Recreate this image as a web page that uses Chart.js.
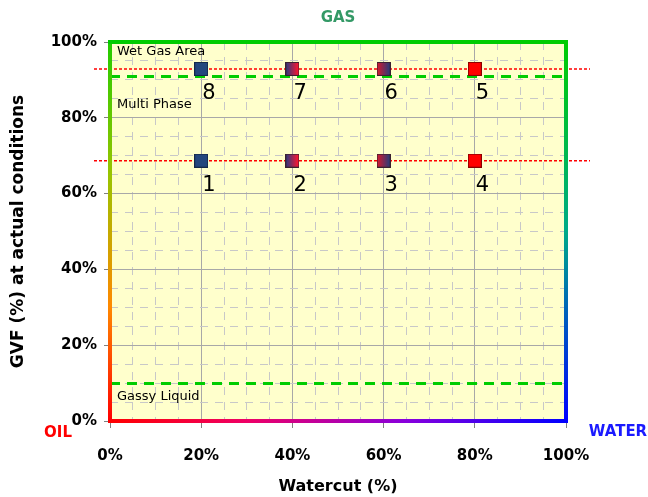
<!DOCTYPE html>
<html>
<head>
<meta charset="utf-8">
<script src="https://cdn.jsdelivr.net/npm/chart.js@4.4.1/dist/chart.umd.min.js"></script>
<style>
  html, body { margin: 0; padding: 0; background: #fff; }
  #wrap { width: 648px; height: 497px; }
</style>
</head>
<body>
<div id="wrap"><canvas id="chart" width="648" height="497"></canvas></div>
<script>
// data
const watercut = [20, 40, 60, 80, 80, 60, 40, 20];
const gvf = [68.7, 68.7, 68.7, 68.7, 92.9, 92.9, 92.9, 92.9];
const pointNames = ["1", "2", "3", "4", "5", "6", "7", "8"];
const refLines = [92.9, 68.7];      // red dotted
const zoneLimits = [91, 10];        // green dashed
const zoneNames = ["Wet Gas Area", "Multi Phase", "Gassy Liquid"];
const axisTicks = [0, 20, 40, 60, 80, 100];

const FONT = "'DejaVu Sans', sans-serif";

// little square markers (some are blue -> red blends)
function square(c1, c2, edge) {
  const cv = document.createElement("canvas");
  cv.width = 14; cv.height = 14;
  const c = cv.getContext("2d");
  const g = c.createLinearGradient(1, 0, 13, 0);
  g.addColorStop(0, c1);
  g.addColorStop(1, c2);
  c.fillStyle = g;
  c.fillRect(1, 1, 12, 12);
  c.strokeStyle = edge;
  c.lineWidth = 1;
  c.strokeRect(0.5, 0.5, 13, 13);
  return cv;
}
const blue = square("#23467e", "#23467e", "#14284a");
const blueRed = square("#34387e", "#ff1530", "#3a2030");
const redBlue = square("#d01a30", "#2c3a78", "#3a2030");
const red = square("#ff0000", "#ff0000", "#8a0000");
const markers = [blue, blueRed, redBlue, red, red, redBlue, blueRed, blue];

// background, zone lines, frame and labels
const decor = {
  id: "decor",
  beforeDraw(chart) {
    const { ctx, chartArea: a } = chart;
    ctx.save();
    ctx.fillStyle = "#ffffcc";
    ctx.fillRect(a.left, a.top, a.right - a.left, a.bottom - a.top);
    ctx.restore();
  },
  beforeDatasetsDraw(chart) {
    const { ctx, chartArea: a, scales: { y } } = chart;
    ctx.save();
    ctx.strokeStyle = "#00cc00";
    ctx.lineWidth = 3;
    ctx.setLineDash([10, 7]);
    zoneLimits.forEach(v => {
      const py = Math.round(y.getPixelForValue(v)) + 0.5;
      ctx.beginPath();
      ctx.moveTo(a.left, py);
      ctx.lineTo(a.right, py);
      ctx.stroke();
    });
    ctx.strokeStyle = "#ff0000";
    ctx.lineWidth = 1.5;
    ctx.setLineDash([3, 2]);
    refLines.forEach(v => {
      const py = y.getPixelForValue(v);
      ctx.beginPath();
      ctx.moveTo(a.left - 16, py);
      ctx.lineTo(a.right + 24, py);
      ctx.stroke();
    });
    ctx.restore();
  },
  afterDatasetsDraw(chart) {
    const { ctx, chartArea: a, scales: { y } } = chart;
    ctx.save();

    // frame with colour blends
    ctx.lineWidth = 4;
    ctx.setLineDash([]);
    let g;
    g = ctx.createLinearGradient(0, a.top, 0, a.bottom);
    g.addColorStop(0, "#22cc00");
    g.addColorStop(0.35, "#99c400");
    g.addColorStop(0.7, "#ff8800");
    g.addColorStop(1, "#ff0000");
    ctx.strokeStyle = g;
    ctx.beginPath(); ctx.moveTo(a.left, a.top - 2); ctx.lineTo(a.left, a.bottom + 2); ctx.stroke();

    g = ctx.createLinearGradient(a.left, 0, a.right, 0);
    g.addColorStop(0, "#ff0000");
    g.addColorStop(0.3, "#ee0066");
    g.addColorStop(0.65, "#8800dd");
    g.addColorStop(1, "#0000ff");
    ctx.strokeStyle = g;
    ctx.beginPath(); ctx.moveTo(a.left - 2, a.bottom); ctx.lineTo(a.right + 2, a.bottom); ctx.stroke();

    g = ctx.createLinearGradient(0, a.top, 0, a.bottom);
    g.addColorStop(0, "#00cc00");
    g.addColorStop(0.5, "#00aa88");
    g.addColorStop(1, "#0000ff");
    ctx.strokeStyle = g;
    ctx.beginPath(); ctx.moveTo(a.right, a.top - 2); ctx.lineTo(a.right, a.bottom + 2); ctx.stroke();

    ctx.strokeStyle = "#00cc00";
    ctx.beginPath(); ctx.moveTo(a.left - 2, a.top); ctx.lineTo(a.right + 2, a.top); ctx.stroke();

    // zone names
    ctx.fillStyle = "#000";
    ctx.font = "13px " + FONT;
    ctx.textAlign = "left";
    ctx.textBaseline = "middle";
    ctx.fillText(zoneNames[0], a.left + 7, y.getPixelForValue(97.4));
    ctx.fillText(zoneNames[1], a.left + 7, y.getPixelForValue(83.6));
    ctx.fillText(zoneNames[2], a.left + 7, y.getPixelForValue(6.3));

    // point numbers
    ctx.font = "21px " + FONT;
    ctx.textBaseline = "alphabetic";
    const meta = chart.getDatasetMeta(0);
    meta.data.forEach((pt, i) => {
      ctx.fillText(pointNames[i], pt.x + 1, pt.y + 30);
    });

    // corner words
    ctx.font = "bold 15px " + FONT;
    ctx.textAlign = "center";
    ctx.textBaseline = "middle";
    ctx.fillStyle = "#339966";
    ctx.fillText("GAS", (a.left + a.right) / 2, 18);
    ctx.fillStyle = "#ff0000";
    ctx.fillText("OIL", 58, a.bottom + 12);
    ctx.fillStyle = "#1a1aff";
    ctx.fillText("WATER", 618, a.bottom + 11);
    ctx.restore();
  }
};

const isMajor = v => axisTicks.includes(v);

function axis(titleText, titleSize, titlePad, labelPad, tickLen, extra) {
  return Object.assign({
    type: "linear",
    min: 0,
    max: 100,
    ticks: {
      stepSize: 5,
      autoSkip: false,
      maxRotation: 0,
      minRotation: 0,
      padding: labelPad,
      color: "#000",
      font: { family: FONT, size: 15, weight: "bold" },
      callback: v => isMajor(v) ? v + "%" : ""
    },
    grid: {
      color: c => isMajor(c.tick.value) ? "#a8a8a8" : "#c8c8c8",
      lineWidth: 1,
      tickColor: c => isMajor(c.tick.value) ? "#808080" : "rgba(0,0,0,0)",
      tickLength: tickLen
    },
    border: {
      display: false,
      dash: c => (c.tick && !isMajor(c.tick.value)) ? [8, 7] : []
    },
    title: {
      display: true,
      text: titleText,
      color: "#000",
      font: { family: FONT, size: titleSize, weight: "bold" },
      padding: titlePad
    }
  }, extra);
}

const ctx = document.getElementById("chart").getContext("2d");
new Chart(ctx, {
  type: "scatter",
  data: {
    datasets: [{
      data: watercut.map((w, i) => ({ x: w, y: gvf[i] })),
      pointStyle: markers,
      pointRadius: 7,
      pointHoverRadius: 7
    }]
  },
  options: {
    responsive: false,
    animation: false,
    layout: { padding: { left: 0, top: 42, right: 82, bottom: 0 } },
    plugins: {
      legend: { display: false },
      tooltip: { enabled: false }
    },
    scales: {
      x: axis("Watercut (%)", 16, { top: 0, bottom: 1 }, 19, 7, {
        position: "bottom",
        afterFit: s => { s.height = 76; }
      }),
      y: axis("GVF (%) at actual conditions", 17, { top: 8, bottom: 0 }, 7, 6, {
        position: "left",
        afterFit: s => { s.width = 110; }
      })
    }
  },
  plugins: [decor]
});
</script>
</body>
</html>
